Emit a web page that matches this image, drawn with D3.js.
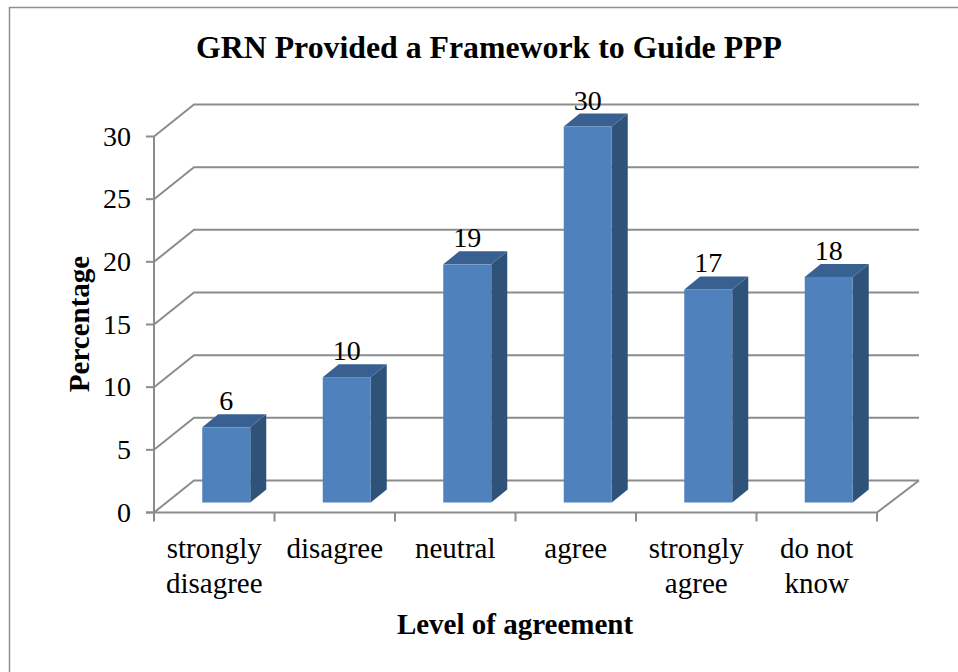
<!DOCTYPE html>
<html><head><meta charset="utf-8">
<style>html,body{margin:0;padding:0;background:#fff}svg{display:block}text{font-family:"Liberation Serif",serif;fill:#000}</style>
<script src="https://cdn.jsdelivr.net/npm/d3@7"></script></head>
<body><svg id="c" width="958" height="672"></svg>
<script>
const categories=[["strongly","disagree"],["disagree"],["neutral"],["agree"],["strongly","agree"],["do not","know"]];
const values=[6,10,19,30,17,18];
const yTicks=[0,5,10,15,20,25,30];
const titleText="GRN Provided a Framework to Guide PPP";
const xTitle="Level of agreement";
const yTitle="Percentage";
const svg=d3.select("#c");
const grey="#8c8c8c";
const x=d3.scaleBand().domain(d3.range(categories.length)).range([154,877]);
const y=d3.scaleLinear().domain([0,30]).range([512.5,136.5]);
const bx=40,by=-32,bxr=42;
svg.append("path").attr("d","M9.5,672V7.5H958").attr("fill","none").attr("stroke","#8f8f8f").attr("stroke-width",1.5);
const g=svg.append("g").attr("fill","none").attr("stroke",grey).attr("stroke-width",2);
yTicks.forEach(t=>{
  g.append("path").attr("d",`M${x.range()[0]},${y(t)}L${x.range()[0]+bx},${y(t)+by}H${x.range()[1]+bxr}`);
  g.append("line").attr("x1",146).attr("x2",154).attr("y1",y(t)).attr("y2",y(t));
});
g.append("line").attr("x1",154).attr("x2",154).attr("y1",y(30)).attr("y2",y(0));
g.append("path").attr("d",`M146,${y(0)}H${x.range()[1]}L${x.range()[1]+bxr},${y(0)+by}`);
d3.range(categories.length+1).forEach(i=>{
  const px=i<categories.length?x(i):x.range()[1];
  g.append("line").attr("x1",px).attr("x2",px).attr("y1",y(0)).attr("y2",y(0)+9);
});
const bw=48,dx=16,dy=-13,ox=12,oy=-10;
const bars=svg.append("g").selectAll("g").data(values).join("g");
const left=(d,i)=>x(i)+x.bandwidth()/2-bw/2+ox;
const base=y(0)+oy;
bars.append("path").attr("fill","#2f5279").attr("d",(d,i)=>{
  const r=left(d,i)+bw,t=base-(y(0)-y(d));
  return `M${r},${t}L${r+dx},${t+dy}V${base+dy}L${r},${base}Z`;});
bars.append("path").attr("fill","#386191").attr("d",(d,i)=>{
  const l=left(d,i),t=base-(y(0)-y(d));
  return `M${l},${t}L${l+dx},${t+dy}H${l+bw+dx}L${l+bw},${t}Z`;});
bars.append("rect").attr("fill","#4f81bd")
  .attr("x",(d,i)=>left(d,i)).attr("width",bw)
  .attr("y",d=>base-(y(0)-y(d))).attr("height",d=>y(0)-y(d));
bars.append("text").attr("text-anchor","middle").attr("font-size",28)
  .attr("x",(d,i)=>left(d,i)+bw/2).attr("y",d=>base-(y(0)-y(d))+dy-4).text(d=>d);
svg.append("g").selectAll("text").data(yTicks).join("text").attr("text-anchor","end").attr("font-size",28)
  .attr("x",131).attr("y",d=>y(d)+9).text(d=>d);
categories.forEach((c,i)=>{
  c.forEach((s,j)=>svg.append("text").attr("text-anchor","middle").attr("font-size",29)
    .attr("x",x(i)+x.bandwidth()/2).attr("y",557.5+j*35).text(s));
});
svg.append("text").attr("x",489).attr("y",58).attr("text-anchor","middle").attr("font-size",31.8).attr("font-weight","bold").text(titleText);
svg.append("text").attr("x",515).attr("y",634).attr("text-anchor","middle").attr("font-size",29).attr("font-weight","bold").text(xTitle);
svg.append("text").attr("transform","translate(89,324) rotate(-90)").attr("text-anchor","middle").attr("font-size",29).attr("font-weight","bold").text(yTitle);
</script></body></html>
